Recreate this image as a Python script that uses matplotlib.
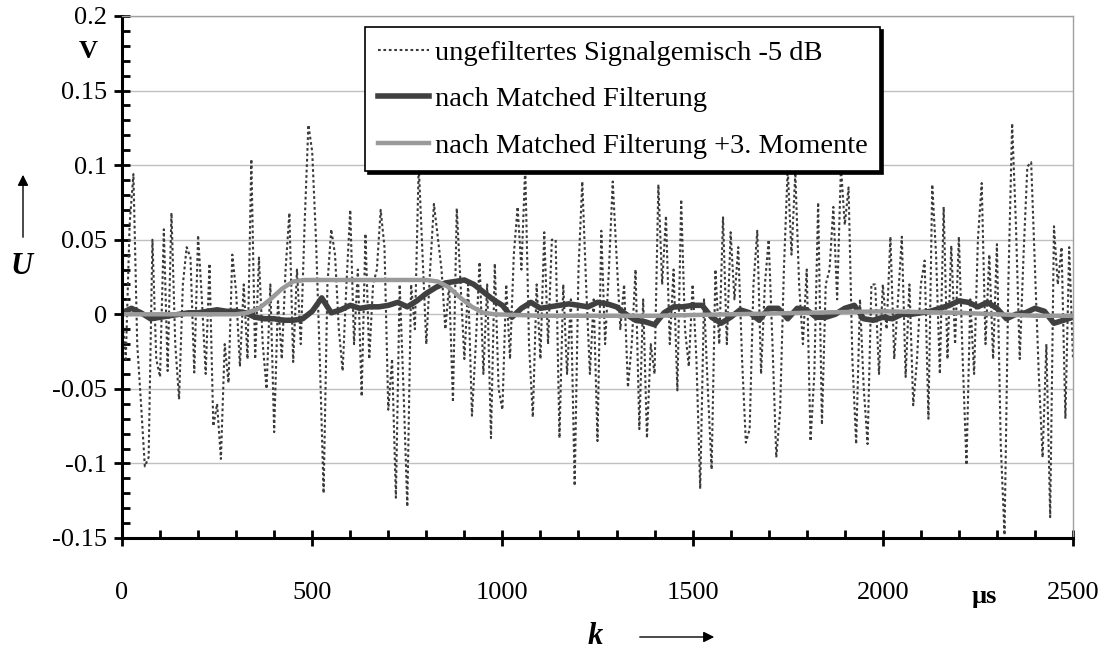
import matplotlib.pyplot as plt
import numpy as np

plt.rcParams['font.family'] = ['Liberation Serif', 'DejaVu Serif']

W, H = 1107, 651

# unfiltered signal mixture, read every 10 us
sig_t = np.arange(0, 2501, 10)
sig_u = [
    0.0, -0.03, 0.06, 0.094, -0.02, -0.06, -0.102, -0.096, 0.05, -0.03,
    -0.042, 0.057, -0.038, 0.068, -0.02, -0.057, 0.02, 0.045, 0.038, -0.039,
    0.053, 0.01, -0.04, 0.034, -0.075, -0.06, -0.097, -0.02, -0.046, 0.04,
    0.015, -0.035, 0.02, -0.03, 0.104, -0.03, 0.038, -0.02, -0.05, 0.02,
    -0.079, 0.01, -0.03, 0.03, 0.068, -0.032, 0.03, -0.02, 0.06, 0.127,
    0.109, 0.05, -0.03, -0.12, 0.02, 0.057, 0.04, -0.01, -0.038, 0.02,
    0.07, -0.02, 0.03, -0.055, 0.054, -0.03, 0.02, 0.03, 0.07, 0.045,
    -0.064, -0.03, -0.123, 0.02, -0.05, -0.129, 0.02, -0.01, 0.1, 0.04,
    -0.02, 0.03, 0.074, 0.052, 0.03, -0.01, 0.02, -0.059, 0.071, 0.02,
    -0.03, 0.02, -0.068, -0.02, 0.035, -0.04, 0.02, -0.083, 0.034, -0.05,
    -0.064, 0.02, -0.03, 0.04, 0.072, 0.03, 0.099, -0.02, -0.069, 0.02,
    -0.03, 0.055, -0.02, 0.05, 0.05, -0.083, 0.02, -0.04, 0.01, -0.115,
    0.03, 0.089, 0.02, -0.04, 0.01, -0.085, 0.056, -0.02, 0.03, 0.089,
    0.04, -0.01, 0.02, -0.049, -0.02, 0.03, -0.077, 0.01, -0.083, -0.02,
    -0.04, 0.087, 0.02, 0.066, -0.02, 0.03, -0.051, 0.077, -0.01, -0.035,
    0.02, -0.03, -0.117, 0.01, -0.05, -0.104, 0.03, -0.02, 0.065, -0.02,
    0.055, 0.01, 0.045, -0.03, -0.086, -0.077, 0.02, 0.056, -0.04, 0.02,
    0.05, -0.02, -0.096, -0.065, 0.03, 0.098, 0.04, 0.095, 0.02, -0.02,
    0.03, -0.085, -0.04, 0.075, -0.074, 0.02, 0.03, 0.072, 0.01, 0.099,
    0.06, 0.085, -0.03, -0.087, 0.01, -0.05, -0.087, 0.02, 0.02, -0.04,
    0.02, -0.01, 0.052, -0.03, 0.01, 0.052, -0.042, 0.02, -0.061, -0.03,
    0.02, 0.036, -0.07, 0.087, 0.04, -0.04, 0.072, -0.03, 0.046, -0.02,
    0.052, -0.03, -0.101, 0.01, -0.04, 0.05, 0.088, -0.02, 0.04, -0.03,
    0.047, -0.087, -0.148, 0.02, 0.128, 0.06, -0.03, 0.04, 0.099, 0.102,
    0.03, -0.04, -0.096, -0.02, -0.136, 0.059, 0.02, 0.045, -0.07, 0.045,
    -0.03,
]

# after matched filtering, read every 25 us
mf_t = np.arange(0, 2501, 25)
mf_u = [
    0.001, 0.004, 0.001, -0.003, -0.002, -0.001, 0.0, 0.001, 0.001, 0.002,
    0.003, 0.002, 0.002, 0.001, -0.002, -0.003, -0.003, -0.004, -0.004, -0.003,
    0.002, 0.011, 0.001, 0.003, 0.006, 0.004, 0.005, 0.005, 0.006, 0.008,
    0.005, 0.009, 0.014, 0.018, 0.021, 0.022, 0.023, 0.02, 0.015, 0.01,
    0.006, -0.002, 0.004, 0.008, 0.004, 0.005, 0.006, 0.007, 0.006, 0.005,
    0.008, 0.007, 0.005, 0.0, -0.004, -0.005, -0.007, 0.001, 0.005, 0.005,
    0.006, 0.006, -0.002, -0.006, -0.002, 0.003, 0.001, -0.004, 0.004, 0.004,
    -0.003, 0.004, 0.003, -0.002, -0.002, 0.0, 0.004, 0.006, -0.003, -0.004,
    -0.002, -0.003, 0.0, 0.0, 0.001, 0.002, 0.004, 0.006, 0.009, 0.008,
    0.005, 0.008, 0.004, -0.003, 0.0, 0.001, 0.004, 0.002, -0.006, -0.004,
    -0.002,
]

# after matched filtering + 3rd moments
m3_t = [0, 300, 330, 360, 390, 420, 450, 480, 800, 830, 860, 890, 920, 950,
        980, 1100, 1400, 1600, 1800, 2000, 2200, 2400, 2500]
m3_u = [0.0, 0.0, 0.001, 0.004, 0.010, 0.017, 0.022, 0.023, 0.023, 0.022,
        0.018, 0.011, 0.005, 0.001, 0.0, -0.001, -0.001, 0.0, 0.001, 0.002,
        0.001, -0.001, -0.001]

labels = ['ungefiltertes Signalgemisch -5 dB', 'nach Matched Filterung',
          'nach Matched Filterung +3. Momente']
x_ticks = [0, 500, 1000, 1500, 2000, 2500]
y_ticks = [-0.15, -0.1, -0.05, 0, 0.05, 0.1, 0.15, 0.2]
y_labels = ['-0.15', '-0.1', '-0.05', '0', '0.05', '0.1', '0.15', '0.2']

fig = plt.figure(figsize=(W / 100, H / 100), dpi=100)
ax = fig.add_axes([122 / W, 1 - 538 / H, (1073 - 122) / W, (538 - 16) / H])

ax.plot(sig_t, sig_u, color='#3a3a3a', lw=1.5, ls=(0, (1.3, 1.3)), label=labels[0])
ax.plot(mf_t, mf_u, color='#404040', lw=4.0, solid_joinstyle='round', label=labels[1])
ax.plot(m3_t, m3_u, color='#9a9a9a', lw=3.2, label=labels[2])

ax.set_xlim(0, 2500)
ax.set_ylim(-0.15, 0.2)
ax.set_xticks(x_ticks)
ax.set_xticklabels([str(v) for v in x_ticks])
ax.set_xticks(np.arange(0, 2501, 100), minor=True)
ax.set_yticks(y_ticks)
ax.set_yticklabels(y_labels)
ax.set_yticks(np.linspace(-0.15, 0.2, 36), minor=True)
ax.tick_params(which='major', direction='inout', length=12, width=2, labelsize=19)
ax.tick_params(which='minor', direction='in', length=6, width=2)
ax.tick_params(axis='x', which='major', pad=26)
ax.tick_params(axis='y', which='major', pad=5)
ax.grid(axis='y', which='major', color='#c0c0c0', lw=1)
ax.set_axisbelow(True)

for s in ['left', 'bottom']:
    ax.spines[s].set_linewidth(2.2)
    ax.spines[s].set_color('black')
for s in ['top', 'right']:
    ax.spines[s].set_linewidth(1)
    ax.spines[s].set_color('#a0a0a0')

leg = ax.legend(loc='upper left', bbox_to_anchor=(365 / W, 1 - 27 / H),
                bbox_transform=fig.transFigure, borderaxespad=0, fontsize=20.5,
                fancybox=False, framealpha=1, edgecolor='black', borderpad=0.45,
                handlelength=1.8, handletextpad=0.2, labelspacing=0.72,
                shadow={'color': 'black', 'alpha': 1.0})
leg.get_frame().set_linewidth(1.2)

# axis captions
fig.text(88 / W, 1 - 51 / H, 'V', fontsize=19, fontweight='bold', ha='center', va='center')
fig.text(22 / W, 1 - 266 / H, 'U', fontsize=22, fontweight='bold', fontstyle='italic',
         ha='center', va='center')
ax.annotate('', xy=(23 / W, 1 - 172 / H), xytext=(23 / W, 1 - 240 / H),
            xycoords='figure fraction', textcoords='figure fraction',
            arrowprops=dict(arrowstyle='-|>', color='black', lw=1, mutation_scale=16))
fig.text(595 / W, 1 - 636 / H, 'k', fontsize=22, fontweight='bold', fontstyle='italic',
         ha='center', va='center')
ax.annotate('', xy=(717 / W, 1 - 637 / H), xytext=(637 / W, 1 - 637 / H),
            xycoords='figure fraction', textcoords='figure fraction',
            arrowprops=dict(arrowstyle='-|>', color='black', lw=1, mutation_scale=16))
fig.text(984 / W, 1 - 597 / H, 'µs', fontsize=19, fontweight='bold', ha='center', va='center')

fig.savefig('out.png', dpi=100)
